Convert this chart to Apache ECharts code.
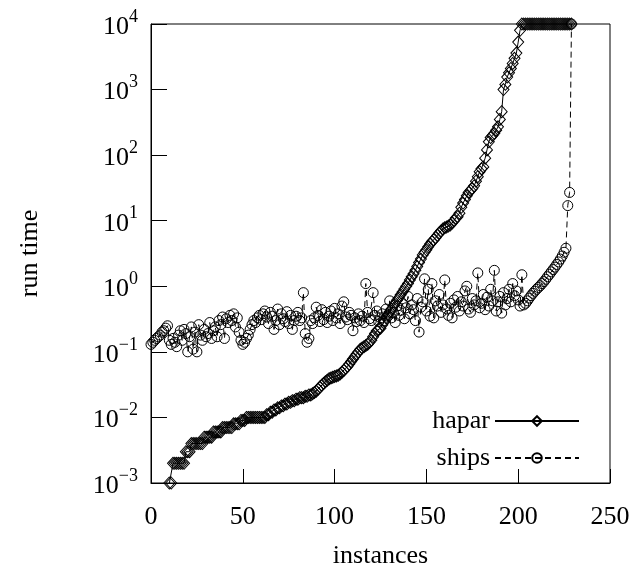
<!DOCTYPE html>
<html>
<head>
<meta charset="utf-8">
<script src="https://cdn.jsdelivr.net/npm/echarts@6/dist/echarts.min.js"></script>
<style>
html,body{margin:0;padding:0;background:#fff;}
#chart{width:637px;height:567px;}
</style>
</head>
<body>
<div id="chart"></div>
<script>
// x positions are the instance indices 0..229
const seriesNames = ['hapar', 'ships'];
const xTicks = [0, 50, 100, 150, 200, 250];
const yTickExponents = [-3, -2, -1, 0, 1, 2, 3, 4];

const hapar = [
  null, null, null, null, null, null, null, null, null, null,
  0.001, 0.001, 0.002, 0.002, 0.002, 0.002, 0.002, 0.002, 0.002, 0.003,
  0.003, 0.003, 0.004, 0.004, 0.004, 0.004, 0.004, 0.004, 0.004, 0.005,
  0.005, 0.005, 0.005, 0.005, 0.006, 0.006, 0.006, 0.006, 0.006, 0.007,
  0.007, 0.007, 0.007, 0.007, 0.007, 0.008, 0.008, 0.008, 0.008, 0.009,
  0.009, 0.009, 0.010, 0.010, 0.010, 0.010, 0.010, 0.010, 0.010, 0.010,
  0.010, 0.010, 0.010, 0.011, 0.011, 0.012, 0.012, 0.013, 0.013, 0.014,
  0.014, 0.015, 0.015, 0.016, 0.016, 0.017, 0.017, 0.018, 0.018, 0.019,
  0.019, 0.020, 0.020, 0.020, 0.021, 0.021, 0.022, 0.022, 0.023, 0.024,
  0.025, 0.027, 0.029, 0.031, 0.033, 0.035, 0.037, 0.039, 0.040, 0.041,
  0.042, 0.043, 0.044, 0.046, 0.049, 0.052, 0.056, 0.060, 0.065, 0.071,
  0.078, 0.085, 0.093, 0.100, 0.110, 0.115, 0.120, 0.125, 0.130, 0.140,
  0.15, 0.17, 0.19, 0.21, 0.22, 0.23, 0.26, 0.29, 0.33, 0.37,
  0.41, 0.45, 0.50, 0.55, 0.61, 0.67, 0.74, 0.82, 0.91, 1.0,
  1.1, 1.25, 1.4, 1.55, 1.75, 2.0, 2.3, 2.6, 3.0, 3.3,
  3.6, 4.0, 4.4, 4.8, 5.1, 5.5, 6.0, 6.5, 7.0, 7.5,
  7.8, 8.0, 8.3, 8.6, 9.2, 10, 11, 11.5, 13, 16,
  18.6, 21, 24, 27, 29, 31, 34, 40, 47, 56,
  62, 66, 90, 120, 160, 185, 200, 215, 240, 270,
  350, 460, 1000, 1200, 1550, 1800, 2100, 2500, 3000, 3600,
  5300, 8000, 10000, 10000, 10000, 10000, 10000, 10000, 10000, 10000,
  10000, 10000, 10000, 10000, 10000, 10000, 10000, 10000, 10000, 10000,
  10000, 10000, 10000, 10000, 10000, 10000, 10000, 10000, 10000, 10000
];

const ships = [
  0.13, 0.14, 0.15, 0.16, 0.17, 0.18, 0.20, 0.21, 0.23, 0.25,
  0.15, 0.13, 0.16, 0.14, 0.12, 0.18, 0.21, 0.15, 0.22, 0.19,
  0.10, 0.17, 0.24, 0.11, 0.20, 0.10, 0.26, 0.18, 0.15, 0.22,
  0.17, 0.19, 0.28, 0.16, 0.21, 0.24, 0.17, 0.30, 0.26, 0.34,
  0.16, 0.32, 0.28, 0.36, 0.30, 0.38, 0.24, 0.33, 0.20, 0.15,
  0.13, 0.14, 0.16, 0.18, 0.22, 0.26, 0.30, 0.28, 0.33, 0.36,
  0.31, 0.38, 0.42, 0.34, 0.27, 0.40, 0.35, 0.22, 0.30, 0.45,
  0.26, 0.38, 0.32, 0.29, 0.41, 0.27, 0.36, 0.22, 0.30, 0.35,
  0.40, 0.30, 0.33, 0.80, 0.19, 0.14, 0.16, 0.30, 0.27, 0.33,
  0.48, 0.36, 0.29, 0.44, 0.31, 0.40, 0.28, 0.35, 0.42, 0.30,
  0.46, 0.33, 0.38, 0.27, 0.50, 0.58, 0.34, 0.31, 0.40, 0.36,
  0.21, 0.33, 0.29, 0.38, 0.30, 0.35, 0.28, 1.10, 0.40, 0.32,
  0.30, 0.80, 0.36, 0.42, 0.29, 0.33, 0.38, 0.30, 0.45, 0.35,
  0.60, 0.33, 0.40, 0.28, 0.50, 0.36, 0.43, 0.55, 0.32, 0.47,
  0.70, 0.38, 0.52, 0.44, 0.30, 0.65, 0.20, 0.48, 0.58, 1.30,
  0.42, 0.90, 0.35, 1.10, 0.33, 0.60, 0.50, 0.75, 0.40, 0.52,
  1.25, 0.45, 0.36, 0.55, 0.33, 0.62, 0.48, 0.70, 0.42, 0.58,
  0.50, 0.85, 1.00, 0.45, 0.40, 0.65, 0.52, 0.60, 1.60, 0.47,
  0.55, 0.75, 0.44, 0.68, 0.50, 0.90, 0.60, 1.75, 0.42, 0.58,
  0.70, 0.39, 0.80, 0.52, 0.65, 0.90, 0.58, 1.10, 0.72, 0.85,
  0.62, 0.50, 1.50, 0.52, 0.55, 0.60, 0.66, 0.72, 0.78, 0.84,
  0.90, 0.96, 1.02, 1.10, 1.18, 1.28, 1.40, 1.52, 1.66, 1.80,
  1.96, 2.15, 2.35, 2.60, 2.90, 3.30, 3.80, 17, 27, 10000
];

const FONT = 'Liberation Serif';
const FS = 26;
const toPairs = arr => arr.map((v, i) => [i, v == null ? '-' : v]);

const chart = echarts.init(document.getElementById('chart'), null, {renderer: 'canvas'});
const option = {
  animation: false,
  backgroundColor: '#fff',
  grid: {left: 151, right: 27, top: 24, bottom: 84, show: true, borderColor: '#000', borderWidth: 1,
         containLabel: false, outerBoundsMode: 'none'},
  xAxis: {
    type: 'value', min: xTicks[0], max: xTicks[xTicks.length - 1], interval: 50,
    name: 'instances', nameLocation: 'middle', nameGap: 60,
    nameTextStyle: {fontFamily: FONT, fontSize: FS, color: '#000'},
    axisLine: {show: true, lineStyle: {color: '#000', width: 1}},
    axisTick: {show: true, inside: true, length: 14, lineStyle: {color: '#000'}},
    axisLabel: {fontFamily: FONT, fontSize: FS, color: '#000', margin: 21},
    splitLine: {show: false}
  },
  yAxis: {
    type: 'log', logBase: 10,
    min: Math.pow(10, yTickExponents[0]), max: Math.pow(10, yTickExponents[yTickExponents.length - 1]),
    splitNumber: 7,
    name: 'run time', nameLocation: 'middle', nameGap: 108, nameRotate: 90,
    nameTextStyle: {fontFamily: FONT, fontSize: FS, color: '#000'},
    axisLine: {show: true, lineStyle: {color: '#000', width: 1}},
    axisTick: {show: true, inside: true, length: 16, lineStyle: {color: '#000'}},
    minorTick: {show: false},
    splitLine: {show: false},
    axisLabel: {
      margin: 13,
      formatter: function (v) {
        const e = Math.round(Math.log10(v));
        const es = String(e).replace('-', '\u2212');
        return '{b|10}{s|' + es + '}';
      },
      rich: {
        b: {fontFamily: FONT, fontSize: FS, color: '#000', lineHeight: 32, verticalAlign: 'bottom'},
        s: {fontFamily: FONT, fontSize: 18, color: '#000', lineHeight: 32, verticalAlign: 'top'}
      }
    }
  },
  legend: {
    orient: 'vertical', right: 52, top: 403, align: 'right',
    itemWidth: 84, itemHeight: 12, itemGap: 11,
    textStyle: {fontFamily: FONT, fontSize: FS, color: '#000'},
    data: seriesNames
  },
  series: [
    {
      name: seriesNames[0], type: 'line', data: toPairs(hapar),
      symbol: 'diamond', symbolSize: [11, 12], showAllSymbol: true, connectNulls: false,
      lineStyle: {color: '#000', width: 1, type: 'solid'},
      itemStyle: {color: 'rgba(255,255,255,0)', borderColor: '#000', borderWidth: 1},
      emphasis: {disabled: true}, z: 3
    },
    {
      name: seriesNames[1], type: 'line', data: toPairs(ships),
      symbol: 'circle', symbolSize: 10, showAllSymbol: true,
      lineStyle: {color: '#000', width: 1, type: [6, 4]},
      itemStyle: {color: 'rgba(255,255,255,0)', borderColor: '#000', borderWidth: 1},
      emphasis: {disabled: true}, z: 2
    }
  ]
};
chart.setOption(option);
</script>
</body>
</html>
